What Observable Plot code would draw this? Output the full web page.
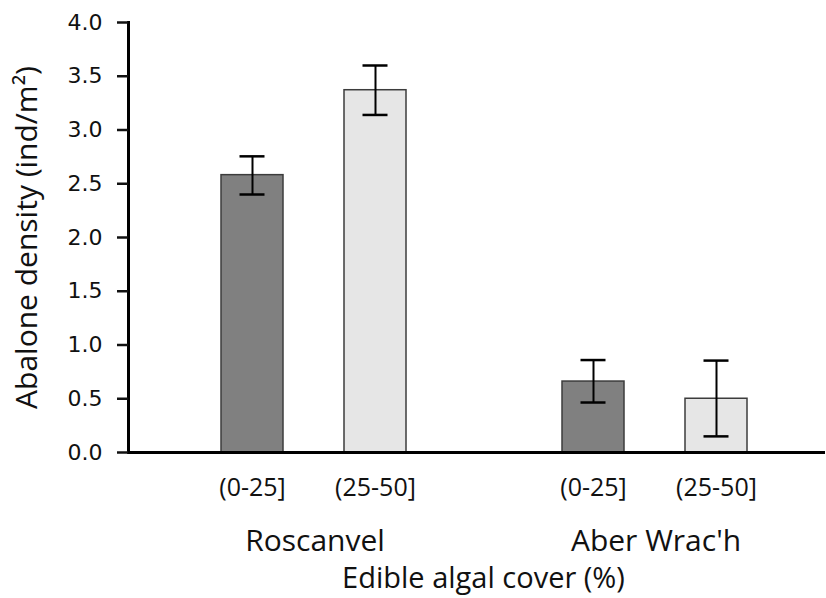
<!DOCTYPE html>
<html><head><meta charset="utf-8">
<script src="https://cdn.jsdelivr.net/npm/d3@7"></script>
<script src="https://cdn.jsdelivr.net/npm/@observablehq/plot@0.6"></script>
<style>body{margin:0;background:#fff} #chart{width:826px;height:598px}</style>
</head><body><div id="chart"></div>
<script>
// ---- data ----
const sites = ["Roscanvel", "Aber Wrac'h"];
const coverClasses = ["(0-25]", "(25-50]"];
const barSite = ["Roscanvel", "Roscanvel", "Aber Wrac'h", "Aber Wrac'h"];
const barCover = ["(0-25]", "(25-50]", "(0-25]", "(25-50]"];
const meanDensity = [2.58, 3.37, 0.66, 0.50];
const errLow = [2.40, 3.14, 0.465, 0.15];
const errHigh = [2.755, 3.60, 0.86, 0.855];
const yTicks = [0, 0.5, 1, 1.5, 2, 2.5, 3, 3.5, 4];
const barColors = ["#808080", "#e6e6e6"];
const xTitle = "Edible algal cover (%)";
const yTitle = "Abalone density (ind/m²)";

const data = barSite.map((s, i) => ({site: s, cover: barCover[i], mean: meanDensity[i], lo: errLow[i], hi: errHigh[i]}));

const chart = Plot.plot({
  width: 826, height: 598,
  marginTop: 22, marginBottom: 146, marginLeft: 128, marginRight: 0,
  style: {fontFamily: "Open Sans", background: "white", color: "#111"},
  fx: {domain: sites, paddingInner: 0, paddingOuter: 0.022, align: 0, axis: null},
  x: {domain: coverClasses, paddingInner: 0.5, paddingOuter: 0.633, align: 0.593, axis: null},
  y: {domain: [0, 4], axis: null},
  color: {domain: coverClasses, range: barColors},
  marks: [
    Plot.barY(data, {fx: "site", x: "cover", y: "mean", fill: "cover", stroke: "#3c3c3c", strokeWidth: 1.5}),
    Plot.ruleX(data, {fx: "site", x: "cover", y1: "lo", y2: "hi", stroke: "#000", strokeWidth: 2}),
    Plot.tickY(data, {fx: "site", x: "cover", y: "lo", stroke: "#000", strokeWidth: 2.5, insetLeft: 18.5, insetRight: 18.5}),
    Plot.tickY(data, {fx: "site", x: "cover", y: "hi", stroke: "#000", strokeWidth: 2.5, insetLeft: 18.5, insetRight: 18.5}),
    Plot.ruleY([0], {stroke: "#000", strokeWidth: 3, insetRight: -15}),
    Plot.frame({anchor: "left", facetAnchor: "left", stroke: "#000", strokeWidth: 3}),
    Plot.axisY({ticks: yTicks, tickFormat: d3.format(".1f"), tickSize: 11, tickPadding: 15, strokeWidth: 2.5, label: null, fontSize: 22, fontFamily: "DejaVu Sans", color: "#111"}),
    Plot.axisY({ticks: [], label: yTitle, labelAnchor: "center", labelArrow: "none", labelOffset: 113, fontSize: 30, color: "#111"}),
    Plot.axisX({tickSize: 0, tickPadding: 26, fontSize: 25, label: null, color: "#111"}),
    Plot.axisFx({anchor: "bottom", tickSize: 0, tickPadding: 77, fontSize: 30, label: null, dx: 16, color: "#111"}),
    Plot.text([xTitle], {facet: "super", frameAnchor: "bottom", lineAnchor: "bottom", dy: 135, dx: 14, fontSize: 29, fill: "#111"})
  ]
});
document.getElementById("chart").append(chart);
</script>
</body></html>
